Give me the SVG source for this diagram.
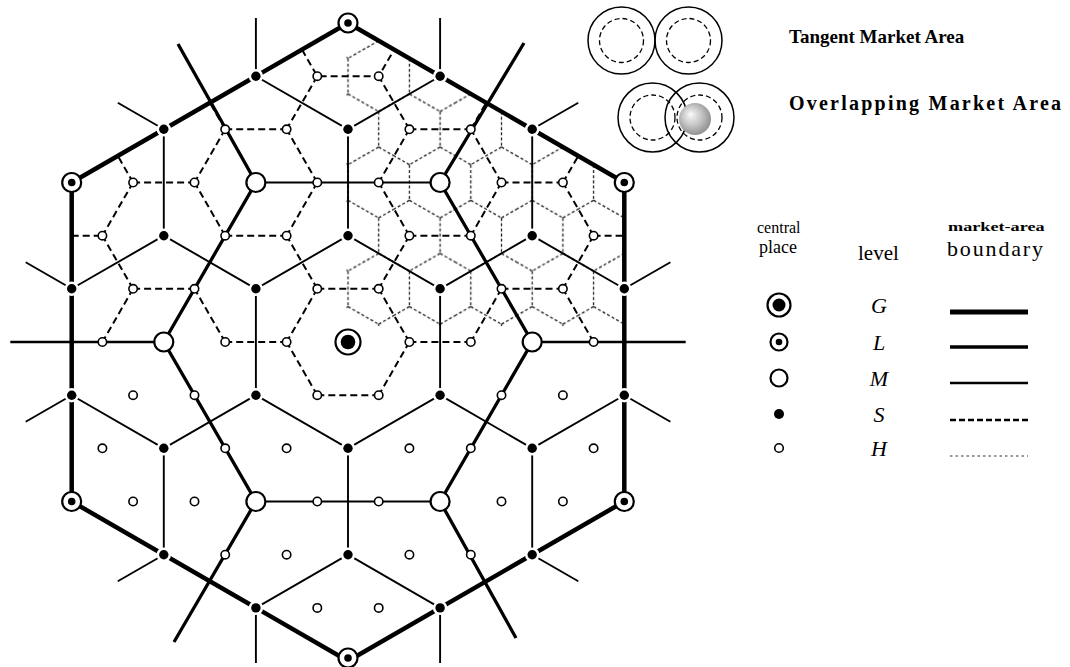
<svg xmlns="http://www.w3.org/2000/svg" width="1070" height="667" viewBox="0 0 1070 667">
<defs>
<style>
.gb{fill:none;stroke:#000;stroke-width:4.5;stroke-linejoin:round}
.lb{fill:none;stroke:#000;stroke-width:3.3}
.lx{fill:none;stroke:#000;stroke-width:2.4}
.lh{fill:none;stroke:#000;stroke-width:2}
.mb{fill:none;stroke:#000;stroke-width:1.9}
.sb{fill:none;stroke:#000;stroke-width:2;stroke-dasharray:7 4}
.hb{fill:none;stroke:#222;stroke-width:1.3;stroke-dasharray:3 2.2}
.ph{fill:#fff;stroke:#000;stroke-width:1.6}
.ps{fill:#000;stroke:#fff;stroke-width:5;paint-order:stroke}
.pm{fill:#fff;stroke:#000;stroke-width:2.2}
.pl{fill:#fff;stroke:#000;stroke-width:2.2}
.dk{fill:#000}
.co{fill:none;stroke:#000;stroke-width:1.5}
.ci{fill:none;stroke:#000;stroke-width:1.3;stroke-dasharray:5 3}
.t{font-family:"Liberation Serif","Times New Roman",serif;fill:#000}
.tb{font-family:"Liberation Serif","Times New Roman",serif;font-weight:bold;fill:#000}
.ti{font-family:"Liberation Serif","Times New Roman",serif;font-style:italic;fill:#000}
</style>
<pattern id="hexH" patternUnits="userSpaceOnUse" x="332.65" y="342" width="61.4" height="106.34">
<path class="hb" d="M46.05,-17.72V17.72M46.05,17.72L15.35,35.45M46.05,17.72L76.75,35.45M15.35,35.45L-15.35,17.72M15.35,35.45V70.9M15.35,70.9L46.05,88.62M15.35,70.9L-15.35,88.62M46.05,88.62L76.75,70.9M46.05,88.62V124.07"/>
</pattern>
<clipPath id="clipH"><polygon points="346.5,21.6 624.3,182.5 624.3,326 346.5,326"/></clipPath>
<radialGradient id="sph" cx="0.45" cy="0.45" r="0.6" fx="0.35" fy="0.35">
<stop offset="0" stop-color="#fafafa"/><stop offset="0.5" stop-color="#c6c6c6"/><stop offset="1" stop-color="#8a8a8a"/>
</radialGradient>
</defs>
<rect width="1070" height="667" fill="#fff"/>

<g id="connectors">
<g id="h-boundaries"><rect x="340" y="15" width="290" height="315" fill="url(#hexH)" clip-path="url(#clipH)"/></g>
<g id="s-boundaries"><path class="sb" d="M302,49.6L317.3,76.2H378.7L394.1,49.6M317.3,76.2L286.6,129.3M470.8,129.3L486.2,102.7M225.2,129.3H286.6M225.2,129.3L209.9,102.7M225.2,129.3L194.5,182.5M409.4,129.3H470.8M409.4,129.3L378.7,76.2M409.4,129.3L378.7,182.5M562.9,182.5L578.3,155.9M133.1,182.5H194.5M133.1,182.5L117.8,155.9M133.1,182.5L102.4,235.7M317.3,182.5L286.6,129.3M317.3,182.5L286.6,235.7M501.5,182.5H562.9M501.5,182.5L470.8,129.3M501.5,182.5L470.8,235.7M225.2,235.7H286.6M225.2,235.7L194.5,182.5M409.4,235.7H470.8M409.4,235.7L378.7,182.5M409.4,235.7L378.7,288.8M593.6,235.7H624.3M593.6,235.7L562.9,182.5M593.6,235.7L562.9,288.8M71.7,235.7H102.4M133.1,288.8H194.5M133.1,288.8L102.4,235.7M133.1,288.8L102.4,342M317.3,288.8H378.7M317.3,288.8L286.6,235.7M317.3,288.8L286.6,342M501.5,288.8H562.9M501.5,288.8L470.8,235.7M501.5,288.8L470.8,342M225.2,342H286.6M225.2,342L194.5,288.8M409.4,342H470.8M409.4,342L378.7,288.8M409.4,342L378.7,395.2M593.6,342L562.9,288.8M317.3,395.2H378.7M317.3,395.2L286.6,342"/></g>
<g id="m-boundaries"><path class="mb" d="M348,129.3V235.7M163.8,129.3V235.7M532.2,129.3V235.7M255.9,288.8V395.2M440.1,288.8V395.2M348,448.3V554.7M163.8,448.3V554.7M532.2,448.3V554.7M255.9,76.2L348,129.3L440.1,76.2M71.7,288.8L163.8,235.7L255.9,288.8L348,235.7L440.1,288.8L532.2,235.7L624.3,288.8M71.7,395.2L163.8,448.3L255.9,395.2L348,448.3L440.1,395.2L532.2,448.3L624.3,395.2M255.9,607.9L348,554.7L440.1,607.9M255.9,76.2V18M440.1,76.2V18M163.8,129.3L117.8,102.7M532.2,129.3L578.3,102.7M71.7,288.8L25.7,262.2M624.3,288.8L670.4,262.2M71.7,395.2L25.7,421.8M624.3,395.2L670.4,421.8M163.8,554.7L117.8,581.3M532.2,554.7L578.3,581.3M255.9,607.9V663M440.1,607.9V663"/></g>
<g id="l-boundaries">
<path class="lb" d="M255.9,182.5L163.8,342L255.9,501.5M440.1,182.5L532.2,342L440.1,501.5M255.9,182.5L178,44M440.1,182.5L524,43M255.9,501.5L174,642M440.1,501.5L516,638"/>
<path class="lx" d="M163.8,342H10.3M532.2,342H685.7"/>
<path class="lh" d="M255.9,182.5H440.1M255.9,501.5H440.1"/>
</g>
<g id="g-boundary"><polygon class="gb" points="348,23 624.3,182.5 624.3,501.5 348,661 71.7,501.5 71.7,182.5"/></g>
</g>

<g id="places-H">
<circle class="ph" r="4.2" cx="317.3" cy="76.2"/><circle class="ph" r="4.2" cx="378.7" cy="76.2"/>
<circle class="ph" r="4.2" cx="225.2" cy="129.3"/><circle class="ph" r="4.2" cx="286.6" cy="129.3"/><circle class="ph" r="4.2" cx="409.4" cy="129.3"/><circle class="ph" r="4.2" cx="470.8" cy="129.3"/>
<circle class="ph" r="4.2" cx="133.1" cy="182.5"/><circle class="ph" r="4.2" cx="194.5" cy="182.5"/><circle class="ph" r="4.2" cx="317.3" cy="182.5"/><circle class="ph" r="4.2" cx="378.7" cy="182.5"/><circle class="ph" r="4.2" cx="501.5" cy="182.5"/><circle class="ph" r="4.2" cx="562.9" cy="182.5"/>
<circle class="ph" r="4.2" cx="102.4" cy="235.7"/><circle class="ph" r="4.2" cx="225.2" cy="235.7"/><circle class="ph" r="4.2" cx="286.6" cy="235.7"/><circle class="ph" r="4.2" cx="409.4" cy="235.7"/><circle class="ph" r="4.2" cx="470.8" cy="235.7"/><circle class="ph" r="4.2" cx="593.6" cy="235.7"/>
<circle class="ph" r="4.2" cx="133.1" cy="288.8"/><circle class="ph" r="4.2" cx="194.5" cy="288.8"/><circle class="ph" r="4.2" cx="317.3" cy="288.8"/><circle class="ph" r="4.2" cx="378.7" cy="288.8"/><circle class="ph" r="4.2" cx="501.5" cy="288.8"/><circle class="ph" r="4.2" cx="562.9" cy="288.8"/>
<circle class="ph" r="4.2" cx="102.4" cy="342"/><circle class="ph" r="4.2" cx="225.2" cy="342"/><circle class="ph" r="4.2" cx="286.6" cy="342"/><circle class="ph" r="4.2" cx="409.4" cy="342"/><circle class="ph" r="4.2" cx="470.8" cy="342"/><circle class="ph" r="4.2" cx="593.6" cy="342"/>
<circle class="ph" r="4.2" cx="133.1" cy="395.2"/><circle class="ph" r="4.2" cx="194.5" cy="395.2"/><circle class="ph" r="4.2" cx="317.3" cy="395.2"/><circle class="ph" r="4.2" cx="378.7" cy="395.2"/><circle class="ph" r="4.2" cx="501.5" cy="395.2"/><circle class="ph" r="4.2" cx="562.9" cy="395.2"/>
<circle class="ph" r="4.2" cx="102.4" cy="448.3"/><circle class="ph" r="4.2" cx="225.2" cy="448.3"/><circle class="ph" r="4.2" cx="286.6" cy="448.3"/><circle class="ph" r="4.2" cx="409.4" cy="448.3"/><circle class="ph" r="4.2" cx="470.8" cy="448.3"/><circle class="ph" r="4.2" cx="593.6" cy="448.3"/>
<circle class="ph" r="4.2" cx="133.1" cy="501.5"/><circle class="ph" r="4.2" cx="194.5" cy="501.5"/><circle class="ph" r="4.2" cx="317.3" cy="501.5"/><circle class="ph" r="4.2" cx="378.7" cy="501.5"/><circle class="ph" r="4.2" cx="501.5" cy="501.5"/><circle class="ph" r="4.2" cx="562.9" cy="501.5"/>
<circle class="ph" r="4.2" cx="225.2" cy="554.7"/><circle class="ph" r="4.2" cx="286.6" cy="554.7"/><circle class="ph" r="4.2" cx="409.4" cy="554.7"/><circle class="ph" r="4.2" cx="470.8" cy="554.7"/>
<circle class="ph" r="4.2" cx="317.3" cy="607.9"/><circle class="ph" r="4.2" cx="378.7" cy="607.9"/>
</g>

<g id="places-S">
<circle class="ps" r="4.7" cx="255.9" cy="76.2"/><circle class="ps" r="4.7" cx="440.1" cy="76.2"/>
<circle class="ps" r="4.7" cx="163.8" cy="129.3"/><circle class="ps" r="4.7" cx="348" cy="129.3"/><circle class="ps" r="4.7" cx="532.2" cy="129.3"/>
<circle class="ps" r="4.7" cx="163.8" cy="235.7"/><circle class="ps" r="4.7" cx="348" cy="235.7"/><circle class="ps" r="4.7" cx="532.2" cy="235.7"/>
<circle class="ps" r="4.7" cx="71.7" cy="288.8"/><circle class="ps" r="4.7" cx="255.9" cy="288.8"/><circle class="ps" r="4.7" cx="440.1" cy="288.8"/><circle class="ps" r="4.7" cx="624.3" cy="288.8"/>
<circle class="ps" r="4.7" cx="71.7" cy="395.2"/><circle class="ps" r="4.7" cx="255.9" cy="395.2"/><circle class="ps" r="4.7" cx="440.1" cy="395.2"/><circle class="ps" r="4.7" cx="624.3" cy="395.2"/>
<circle class="ps" r="4.7" cx="163.8" cy="448.3"/><circle class="ps" r="4.7" cx="348" cy="448.3"/><circle class="ps" r="4.7" cx="532.2" cy="448.3"/>
<circle class="ps" r="4.7" cx="163.8" cy="554.7"/><circle class="ps" r="4.7" cx="348" cy="554.7"/><circle class="ps" r="4.7" cx="532.2" cy="554.7"/>
<circle class="ps" r="4.7" cx="255.9" cy="607.9"/><circle class="ps" r="4.7" cx="440.1" cy="607.9"/>
</g>

<g id="places-M">
<circle class="pm" r="9.5" cx="255.9" cy="182.5"/><circle class="pm" r="9.5" cx="440.1" cy="182.5"/>
<circle class="pm" r="9.5" cx="163.8" cy="342"/><circle class="pm" r="9.5" cx="532.2" cy="342"/>
<circle class="pm" r="9.5" cx="255.9" cy="501.5"/><circle class="pm" r="9.5" cx="440.1" cy="501.5"/>
</g>

<g id="places-L">
<g id="L-top"><circle class="pl" r="9.5" cx="348" cy="23"/><circle class="dk" r="3.8" cx="348" cy="23"/></g>
<g id="L-upper-right"><circle class="pl" r="9.5" cx="624.3" cy="182.5"/><circle class="dk" r="3.8" cx="624.3" cy="182.5"/></g>
<g id="L-lower-right"><circle class="pl" r="9.5" cx="624.3" cy="501.5"/><circle class="dk" r="3.8" cx="624.3" cy="501.5"/></g>
<g id="L-bottom"><circle class="pl" r="9.5" cx="348" cy="658"/><circle class="dk" r="3.8" cx="348" cy="658"/></g>
<g id="L-lower-left"><circle class="pl" r="9.5" cx="71.7" cy="501.5"/><circle class="dk" r="3.8" cx="71.7" cy="501.5"/></g>
<g id="L-upper-left"><circle class="pl" r="9.5" cx="71.7" cy="182.5"/><circle class="dk" r="3.8" cx="71.7" cy="182.5"/></g>
</g>

<g id="place-G"><circle class="pl" r="12.5" stroke-width="2.6" cx="348" cy="342"/><circle class="dk" r="7.3" cx="348" cy="342"/></g>

<g id="legend-market-areas">
<circle class="co" cx="621.5" cy="40.5" r="33.5"/><circle class="ci" cx="621.5" cy="40.5" r="22"/>
<circle class="co" cx="688.5" cy="40.5" r="33.5"/><circle class="ci" cx="688.5" cy="40.5" r="22"/>
<circle class="co" cx="652.5" cy="117.5" r="34.5"/><circle class="ci" cx="652.5" cy="117.5" r="22.5"/>
<circle class="co" cx="699.5" cy="117.5" r="34.5"/><circle class="ci" cx="699.5" cy="117.5" r="22.5"/>
<circle cx="695" cy="119" r="16" fill="url(#sph)"/>
<text class="tb" x="789" y="43" font-size="19">Tangent Market Area</text>
<text class="tb" x="789" y="110" font-size="20" textLength="272">Overlapping Market Area</text>
</g>

<g id="legend-hierarchy">
<text class="t" x="757" y="233" font-size="16" fill="#333">central</text>
<text class="t" x="759" y="253" font-size="18">place</text>
<text class="t" x="858" y="260" font-size="21">level</text>
<text class="tb" font-size="13" transform="translate(948,231) scale(1.4,1)">market-area</text>
<text class="t" x="947" y="256" font-size="22" textLength="96">boundary</text>
<g id="leg-G"><circle class="pl" r="11.5" stroke-width="2.6" cx="779" cy="305"/><circle class="dk" r="6.5" cx="779" cy="305"/><text class="ti" x="879" y="313" font-size="22" text-anchor="middle">G</text><path d="M950,312H1028" stroke="#000" stroke-width="5"/></g>
<g id="leg-L"><circle class="pl" r="8.5" stroke-width="2.2" cx="779" cy="342"/><circle class="dk" r="3.3" cx="779" cy="342"/><text class="ti" x="879" y="350" font-size="22" text-anchor="middle">L</text><path d="M950,347H1028" stroke="#000" stroke-width="3.6"/></g>
<g id="leg-M"><circle class="pm" r="8.5" stroke-width="2.4" cx="779" cy="378"/><text class="ti" x="879" y="386" font-size="22" text-anchor="middle">M</text><path d="M950,383H1028" stroke="#000" stroke-width="2.3"/></g>
<g id="leg-S"><circle class="dk" r="5" cx="779" cy="414"/><text class="ti" x="879" y="422" font-size="22" text-anchor="middle">S</text><path d="M950,420H1028" stroke="#000" stroke-width="2.4" stroke-dasharray="6 3"/></g>
<g id="leg-H"><circle class="ph" r="4.3" stroke-width="1.8" cx="779" cy="448"/><text class="ti" x="879" y="456" font-size="22" text-anchor="middle">H</text><path d="M950,456H1028" stroke="#777" stroke-width="1.4" stroke-dasharray="2.5 3"/></g>
</g>
</svg>
